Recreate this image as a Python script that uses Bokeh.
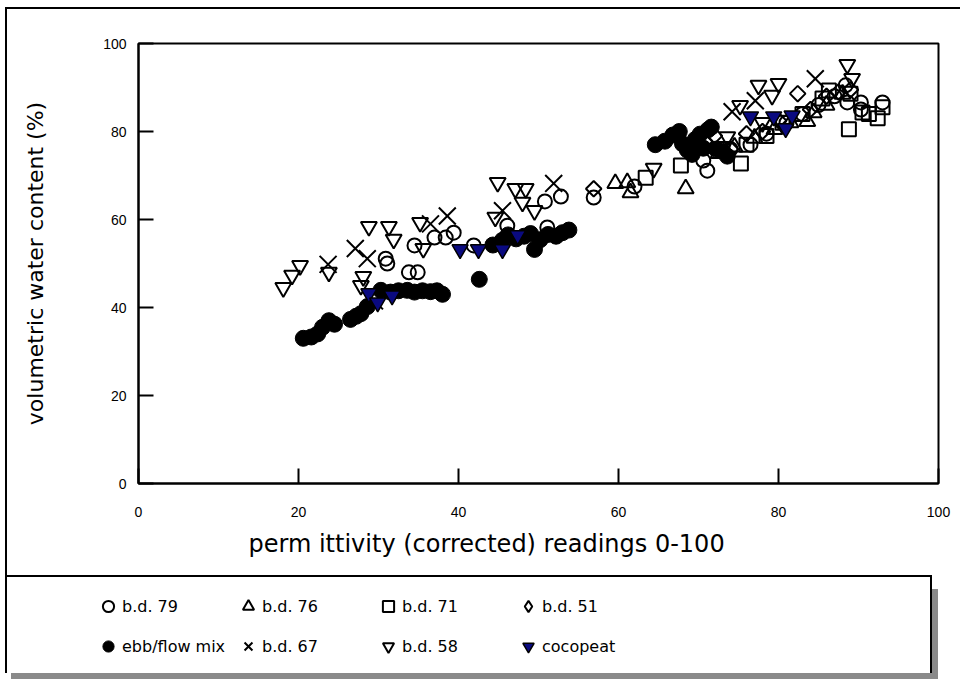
from bokeh.plotting import figure
from bokeh.models import Range1d, FixedTicker, Legend, LegendItem, Title
from bokeh.embed import file_html
from bokeh.resources import INLINE
import math

FONT = "Liberation Sans"
LFONT = "DejaVu Sans"

x_ticks = [0, 20, 40, 60, 80, 100]
y_ticks = [0, 20, 40, 60, 80, 100]

bd79_x = [30.9, 31.1, 33.8, 34.9, 34.5, 37.0, 38.4, 39.4, 41.9, 46.1, 51.1, 50.8, 52.8, 56.9, 62.0,
          71.1, 70.6, 74.0, 76.5, 78.5, 81.0, 83.0, 85.0, 87.0, 88.4, 88.6, 90.3, 93.0, 90.3]
bd79_y = [51.1, 50.0, 48.0, 48.0, 54.1, 55.9, 55.9, 57.0, 54.1, 58.6, 58.2, 64.1, 65.2, 65.0, 67.5,
          71.1, 73.4, 76.0, 77.0, 79.5, 82.0, 84.0, 86.0, 88.0, 90.5, 86.6, 86.6, 86.6, 85.0]

bd76_x = [59.6, 61.1, 61.5, 68.4, 72.5, 74.5, 77.0, 79.5, 81.5, 83.6, 84.4, 86.0, 88.0]
bd76_y = [68.2, 68.4, 66.1, 67.0, 75.0, 76.5, 78.5, 80.5, 82.0, 82.3, 84.3, 86.0, 88.5]

bd71_x = [63.4, 67.8, 75.3, 73.0, 76.0, 78.5, 80.5, 83.0, 85.5, 86.3, 89.0, 88.8, 90.5, 91.3, 92.4, 93.0]
bd71_y = [69.5, 72.3, 72.7, 76.0, 77.0, 79.0, 82.0, 84.0, 87.5, 89.3, 88.6, 80.5, 84.3, 84.0, 83.0, 85.5]

bd51_x = [56.9, 70.8, 72.0, 74.0, 76.0, 78.0, 82.4, 80.0, 84.0, 86.0, 87.5, 89.0]
bd51_y = [67.0, 77.8, 79.0, 76.0, 79.5, 80.0, 88.6, 82.5, 85.0, 88.0, 89.0, 89.5]

ebb_x = [20.6, 21.6, 22.4, 23.0, 23.8, 24.5, 26.5, 27.2, 27.8, 28.6,
         30.3, 31.5, 32.5, 33.6, 34.5, 35.5, 36.5, 37.3, 38.0, 42.6,
         44.3, 45.5, 46.2, 47.2, 48.2, 49.0, 49.5, 50.2, 51.2, 52.2, 53.0, 53.8,
         64.6, 65.8, 66.8, 67.6, 68.0, 68.6, 69.2, 69.6, 70.2, 70.6, 71.2, 71.6, 72.2, 73.0, 73.6]
ebb_y = [33.0, 33.3, 34.0, 35.5, 37.0, 36.2, 37.3, 38.0, 38.6, 40.2,
         43.9, 43.5, 43.8, 43.9, 43.5, 43.8, 43.6, 43.8, 43.0, 46.4,
         54.2, 55.3, 56.5, 55.6, 56.2, 56.8, 53.2, 55.4, 56.6, 56.2, 57.0, 57.6,
         77.0, 77.8, 79.2, 80.0, 77.2, 75.8, 74.8, 78.2, 79.4, 76.2, 80.4, 81.0, 76.0, 75.5, 74.4]

bd67_x = [23.7, 27.1, 28.6, 29.5, 36.5, 38.6, 45.5, 51.9, 74.2, 77.1, 84.6]
bd67_y = [49.8, 53.4, 51.1, 41.5, 59.0, 60.8, 62.0, 68.2, 84.5, 87.0, 92.0]

bd58_x = [18.1, 19.2, 20.2, 23.8, 27.8, 28.1, 28.8, 31.3, 31.9, 35.2, 35.6, 44.6, 44.9, 47.1, 48.4,
          48.0, 49.5, 64.4, 73.6, 75.2, 77.5, 80.0, 79.2, 78.0, 88.6, 89.2]
bd58_y = [44.5, 47.3, 49.5, 48.0, 45.0, 47.0, 58.4, 58.4, 55.5, 59.3, 53.4, 60.5, 68.4, 67.0, 67.0,
          63.9, 62.0, 71.6, 78.8, 85.9, 90.5, 90.9, 88.2, 82.0, 95.2, 92.0]

coco_x = [28.8, 29.9, 31.7, 40.2, 42.5, 45.5, 47.4, 76.5, 79.4, 80.9, 81.7]
coco_y = [43.2, 41.1, 42.7, 53.2, 53.2, 53.2, 56.4, 83.4, 83.4, 80.7, 83.6]

labels = ["b.d. 79", "b.d. 76", "b.d. 71", "b.d. 51", "ebb/flow mix", "b.d. 67", "b.d. 58", "cocopeat"]

open_style = dict(line_color="black", line_width=2, fill_color=None)
styles = [
    (bd79_x, bd79_y, dict(marker="circle", size=14, **open_style)),
    (bd76_x, bd76_y, dict(marker="triangle", size=16, **open_style)),
    (bd71_x, bd71_y, dict(marker="square", size=14, **open_style)),
    (bd51_x, bd51_y, dict(marker="square", size=11, angle=math.pi / 4, **open_style)),
    (ebb_x, ebb_y, dict(marker="circle", size=16, line_color="black", fill_color="black", line_width=1)),
    (bd67_x, bd67_y, dict(marker="x", size=24, line_color="black", line_width=2)),
    (bd58_x, bd58_y, dict(marker="inverted_triangle", size=16, **open_style)),
    (coco_x, coco_y, dict(marker="inverted_triangle", size=16, line_color="black", line_width=1.5,
                          fill_color="#0a0a80")),
]

# ---------------- main chart ----------------
p = figure(width=955, height=568, x_range=Range1d(0, 100), y_range=Range1d(0, 100),
           output_backend="svg", toolbar_location=None,
           min_border_left=131, min_border_right=24, min_border_top=34, min_border_bottom=94)
p.styles = {"border-left": "2px solid black", "border-top": "2px solid black",
            "margin-left": "5px", "margin-top": "7px"}
p.grid.visible = False
p.outline_line_color = "black"
p.outline_line_width = 2
p.background_fill_color = "white"
p.border_fill_color = "white"

p.xaxis.ticker = FixedTicker(ticks=x_ticks)
p.yaxis.ticker = FixedTicker(ticks=y_ticks)
for ax in (p.xaxis, p.yaxis):
    ax.axis_line_width = 2
    ax.major_tick_line_width = 2
    ax.major_tick_in = 15
    ax.major_tick_out = 0
    ax.minor_tick_line_color = None
    ax.major_label_text_font = FONT
    ax.major_label_text_font_size = "14px"
    ax.major_label_text_color = "black"
p.xaxis.major_label_standoff = 23
p.yaxis.major_label_standoff = 12
p.yaxis.axis_label = "volumetric water content (%)"
p.yaxis.axis_label_text_font = LFONT
p.yaxis.axis_label_text_font_size = "22px"
p.yaxis.axis_label_text_font_style = "normal"
p.yaxis.axis_label_text_color = "black"
p.yaxis.axis_label_standoff = 52

xt = Title(text="perm ittivity (corrected) readings 0-100", align="left", offset=110,
           text_font=LFONT, text_font_size="24px", text_font_style="normal",
           text_color="black", standoff=16)
p.add_layout(xt, "below")

for xs, ys, st in styles:
    p.scatter(xs, ys, **st)

# ---------------- legend box ----------------
lg = figure(width=927, height=98, x_range=Range1d(0, 100), y_range=Range1d(0, 100),
            output_backend="svg", toolbar_location=None, min_border=0,
            x_axis_location=None, y_axis_location=None)
lg.styles = {"border-left": "2px solid black", "border-top": "2px solid black",
             "border-right": "2px solid black", "box-shadow": "6px 14px 0px 0px #8a8a8a",
             "margin-left": "5px"}
lg.grid.visible = False
lg.outline_line_color = None

rends = []
for i, (xs, ys, st) in enumerate(styles):
    st = dict(st)
    if i == 3:
        st.pop("angle")
        st["marker"] = "diamond"
    r = lg.scatter(xs, ys, **st)
    r.visible = False
    rends.append(r)

legend = Legend(items=[LegendItem(label=l, renderers=[r]) for l, r in zip(labels, rends)],
                location=(87, 13), orientation="horizontal", ncols=4,
                border_line_color=None, background_fill_alpha=0,
                label_text_font=LFONT, label_text_font_size="16px", label_text_color="black",
                glyph_width=28, glyph_height=32, label_standoff=0, label_width=104,
                spacing=8, padding=5, margin=0)
lg.add_layout(legend)

open("out.html", "w").write(file_html([p, lg], INLINE))
